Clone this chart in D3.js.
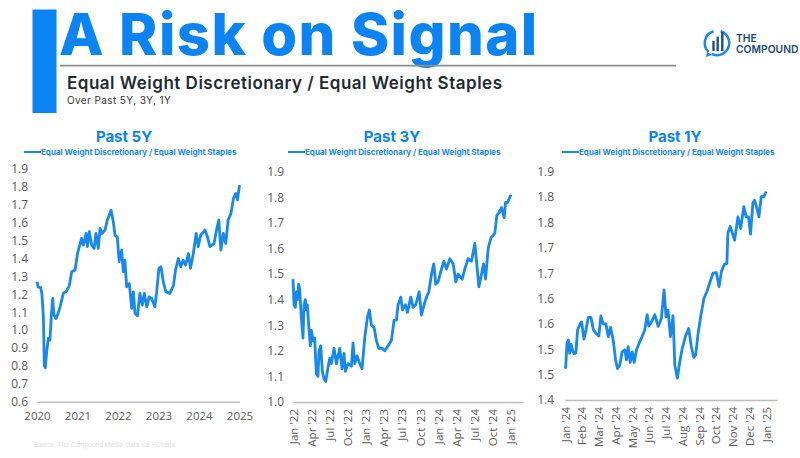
<!DOCTYPE html>
<html>
<head>
<meta charset="utf-8">
<script src="https://cdn.jsdelivr.net/npm/d3@7"></script>
<style>
    body { margin: 0; background: #fff; }
    svg { display: block; font-family: "Liberation Sans", sans-serif; }
    .tick text { fill: #595959; }
</style>
</head>
<body>
<svg id="chart" width="800" height="458"></svg>
<script>
// Past 5Y : annee decimale / ratio
const dates5y = [2020.00, 2020.03, 2020.09, 2020.12, 2020.155, 2020.165, 2020.18, 2020.205, 2020.24, 2020.28, 2020.32, 2020.354, 2020.387, 2020.42, 2020.47, 2020.52, 2020.57, 2020.65, 2020.73, 2020.80, 2020.856, 2020.94,
    2021.00, 2021.10, 2021.144, 2021.21, 2021.243, 2021.29, 2021.35, 2021.41, 2021.457, 2021.514, 2021.556, 2021.605, 2021.68, 2021.737, 2021.827, 2021.885, 2021.926, 2021.983,
    2022.03, 2022.09, 2022.13, 2022.17, 2022.214, 2022.28, 2022.337, 2022.38, 2022.42, 2022.48, 2022.54, 2022.60, 2022.65, 2022.71, 2022.77, 2022.83, 2022.91, 2022.955,
    2023.01, 2023.06, 2023.12, 2023.18, 2023.28, 2023.37, 2023.42, 2023.49, 2023.55, 2023.61, 2023.67, 2023.74, 2023.79, 2023.86, 2023.93, 2023.98,
    2024.04, 2024.15, 2024.21, 2024.27, 2024.37, 2024.44, 2024.49, 2024.54, 2024.60, 2024.66, 2024.72, 2024.79, 2024.85, 2024.91, 2024.95, 2025.00]
const values5y = [1.27, 1.24, 1.237, 1.205, 1.084, 1.00, 0.80, 0.79, 0.88, 0.954, 0.944, 1.084, 1.177, 1.084, 1.065, 1.093, 1.13, 1.205, 1.218, 1.25, 1.326, 1.335,
    1.428, 1.512, 1.475, 1.54, 1.466, 1.55, 1.475, 1.456, 1.54, 1.456, 1.568, 1.54, 1.559, 1.615, 1.67, 1.605, 1.53, 1.52,
    1.382, 1.447, 1.326, 1.39, 1.242, 1.26, 1.121, 1.214, 1.093, 1.08, 1.205, 1.14, 1.205, 1.13, 1.186, 1.177, 1.13, 1.214,
    1.345, 1.354, 1.27, 1.214, 1.205, 1.25, 1.335, 1.40, 1.354, 1.39, 1.363, 1.428, 1.345, 1.428, 1.54, 1.466,
    1.53, 1.559, 1.52, 1.466, 1.484, 1.568, 1.615, 1.447, 1.54, 1.484, 1.615, 1.652, 1.736, 1.764, 1.727, 1.81]
const yTicks5y = [0.6, 0.7, 0.8, 0.9, 1.0, 1.1, 1.2, 1.3, 1.4, 1.5, 1.6, 1.7, 1.8, 1.9]
const xTicks5y = [2020, 2021, 2022, 2023, 2024, 2025]

// Past 3Y : mois depuis Jan '22 / ratio
const months3y = [0, .17, .39, .55, .72, .94, 1.1, 1.38, 1.65, 1.82, 2.04, 2.2, 2.37, 2.65, 2.87, 3.03, 3.31, 3.58, 3.86, 4.13, 4.3, 4.58, 4.85, 5.13, 5.4, 5.68, 6.06, 6.34, 6.78, 7.17, 7.72, 8.1, 8.43, 8.65, 9.1, 9.65, 9.92, 10.2, 10.58, 11.03, 11.41, 11.85,
    12.29, 12.62, 12.95, 13.4, 13.78, 14.17, 14.72, 15.16, 15.71, 16.26, 16.7, 17.09, 17.36, 17.81, 18.08, 18.58, 18.91, 19.46, 19.85, 20.29, 20.84, 21.22, 21.66, 22.05, 22.44, 22.88, 23.26, 23.59, 23.98,
    24.42, 24.92, 25.36, 25.91, 26.46, 26.9, 27.29, 27.95, 28.39, 28.94, 29.49, 30.04, 30.32, 30.71, 31.15, 31.48, 31.81, 32.25, 32.69, 33.35, 33.68, 34.07, 34.45, 34.89, 35.12, 35.45, 36]
const values3y = [1.48, 1.38, 1.37, 1.43, 1.40, 1.46, 1.44, 1.33, 1.25, 1.38, 1.40, 1.36, 1.38, 1.28, 1.22, 1.28, 1.24, 1.25, 1.11, 1.10, 1.20, 1.22, 1.12, 1.09, 1.08, 1.12, 1.17, 1.15, 1.21, 1.15, 1.21, 1.13, 1.19, 1.12, 1.15, 1.14, 1.23, 1.15, 1.18, 1.15, 1.13, 1.25,
    1.33, 1.36, 1.30, 1.29, 1.24, 1.21, 1.21, 1.20, 1.22, 1.24, 1.32, 1.32, 1.38, 1.41, 1.36, 1.38, 1.35, 1.41, 1.37, 1.38, 1.43, 1.34, 1.38, 1.41, 1.43, 1.50, 1.54, 1.46, 1.47,
    1.51, 1.55, 1.52, 1.56, 1.54, 1.47, 1.50, 1.48, 1.52, 1.56, 1.55, 1.62, 1.55, 1.45, 1.50, 1.54, 1.48, 1.60, 1.64, 1.66, 1.73, 1.74, 1.76, 1.72, 1.78, 1.78, 1.81]
const yTicks3y = [1.0, 1.1, 1.2, 1.3, 1.4, 1.5, 1.6, 1.7, 1.8, 1.9]
const xLabels3y = ["Jan '22", "Apr '22", "Jul '22", "Oct '22", "Jan '23", "Apr '23", "Jul '23", "Oct '23", "Jan '24", "Apr '24", "Jul '24", "Oct '24", "Jan '25"]

// Past 1Y : mois depuis Jan '24 / ratio
const months1y = [0, .04, .12, .2, .28, .36, .44, .54, .65, .75, .89, .99, 1.13, 1.25, 1.39, 1.55, 1.69, 1.85, 2.02, 2.14, 2.28, 2.44, 2.58, 2.72, 2.88, 3.02, 3.13, 3.27, 3.41, 3.57, 3.67, 3.77, 3.89, 4.01, 4.13, 4.27, 4.46, 4.6, 4.76, 4.9, 5.0, 5.16, 5.36, 5.56, 5.75, 5.91,
    6.03, 6.15, 6.29, 6.45, 6.55, 6.71, 6.83, 6.98, 7.18, 7.38, 7.54, 7.68, 7.8, 7.94, 8.13, 8.29, 8.47, 8.63, 8.83, 9.03, 9.19, 9.33, 9.52, 9.66, 9.72, 9.86, 10.12, 10.32, 10.48, 10.67, 10.81, 10.95, 11.07, 11.21, 11.31, 11.45, 11.57, 11.71, 11.87, 12]
const values1y = [1.467, 1.464, 1.512, 1.518, 1.492, 1.510, 1.499, 1.491, 1.493, 1.538, 1.550, 1.554, 1.520, 1.538, 1.563, 1.563, 1.539, 1.531, 1.526, 1.566, 1.550, 1.550, 1.525, 1.543, 1.517, 1.479, 1.462, 1.469, 1.495, 1.499, 1.479, 1.505, 1.474, 1.495, 1.474, 1.499, 1.515, 1.525, 1.538, 1.568, 1.546, 1.554, 1.568, 1.545, 1.561, 1.617,
    1.564, 1.577, 1.525, 1.566, 1.469, 1.443, 1.472, 1.499, 1.525, 1.541, 1.505, 1.484, 1.489, 1.531, 1.571, 1.600, 1.614, 1.630, 1.650, 1.651, 1.623, 1.653, 1.668, 1.669, 1.729, 1.742, 1.715, 1.761, 1.738, 1.781, 1.761, 1.761, 1.727, 1.788, 1.794, 1.778, 1.761, 1.801, 1.801, 1.811]
const yTicks1y = [1.40, 1.45, 1.50, 1.55, 1.60, 1.65, 1.70, 1.75, 1.80, 1.85]
const yLabels1y = ["1.4", "1.5", "1.5", "1.6", "1.6", "1.7", "1.7", "1.8", "1.8", "1.9"]
const xLabels1y = ["Jan '24", "Feb '24", "Mar '24", "Apr '24", "May '24", "Jun '24", "Jul '24", "Aug '24", "Sep '24", "Oct '24", "Nov '24", "Dec '24", "Jan '25"]

const seriesName = "Equal Weight Discretionary / Equal Weight Staples"
const blue = "#1688ee"

const svg = d3.select("#chart")

function header() {
    svg.append("rect").attr("x", 32.5).attr("y", 9.5).attr("width", 24).attr("height", 103.5).attr("fill", "#0a84f5")
    svg.append("text").attr("x", 59).attr("y", 55)
        .attr("font-family", "Inter").attr("font-weight", 800).attr("font-size", 58)
        .attr("letter-spacing", 1.4)
        .attr("fill", "#0a84f5").text("A Risk on Signal")
    svg.append("line").attr("x1", 60).attr("x2", 676).attr("y1", 65.6).attr("y2", 65.6)
        .attr("stroke", "#8c8c8c").attr("stroke-width", 1.6)
    svg.append("text").attr("x", 67).attr("y", 89)
        .attr("font-family", "Inter").attr("font-weight", 600).attr("font-size", 17)
        .attr("letter-spacing", 0.5)
        .attr("fill", "#1f2a33").text(seriesName)
    svg.append("text").attr("x", 67).attr("y", 104)
        .attr("font-family", "Inter").attr("font-size", 10)
        .attr("letter-spacing", 0.4)
        .attr("fill", "#333").text("Over Past 5Y, 3Y, 1Y")
    svg.append("text").attr("x", 33).attr("y", 447)
        .attr("font-size", 6.6).attr("fill", "#dedede")
        .text("Source: The Compound Media, data via YCharts")
}

function logo() {
    const g = svg.append("g").attr("transform", "translate(717,43)")
    const arc = d3.arc().innerRadius(11).outerRadius(13.5)
    g.append("path").attr("fill", blue).attr("d", arc({ startAngle: 0.3, endAngle: 3.6 }))
    g.append("path").attr("fill", blue).attr("d", arc({ startAngle: 3.9, endAngle: 6.0 }))
    g.append("path").attr("fill", blue).attr("d", d3.line()([[-10, 9], [-11, 14], [-5, 12]]))
    g.selectAll("rect").data([-3.5, 0.7, 5.3]).enter().append("rect")
        .attr("x", d => d - 1.2).attr("y", (d, i) => [-2, -6.3, -11][i])
        .attr("width", 2.4).attr("height", (d, i) => [10, 14.3, 19][i]).attr("fill", "#1d4f80")
    svg.append("text").attr("x", 736).attr("y", 42).attr("font-family", "Inter").attr("font-weight", 600)
        .attr("font-size", 10.3).attr("fill", "#1f4a70").text("THE")
    svg.append("text").attr("x", 736).attr("y", 53.3).attr("font-family", "Inter").attr("font-weight", 600)
        .attr("font-size", 10.3).attr("fill", "#1f4a70").text("COMPOUND")
}

function panel(p) {
    const x = d3.scaleLinear().domain(p.xDomain).range([p.left, p.right])
    const y = d3.scaleLinear().domain(p.yDomain).range([p.bottom, p.top])

    svg.append("text").attr("x", p.titleX).attr("y", 141.5).attr("text-anchor", "middle")
        .attr("font-family", "Inter").attr("font-weight", 700).attr("font-size", 15)
        .attr("fill", "#0a84f5").text(p.title)

    svg.append("line").attr("x1", p.legendX).attr("x2", p.legendX + 17).attr("y1", 152).attr("y2", 152)
        .attr("stroke", blue).attr("stroke-width", 2)
    svg.append("text").attr("x", p.legendX + 17).attr("y", 155)
        .attr("font-family", "Inter").attr("font-weight", 700).attr("font-size", 8)
        .attr("fill", blue).text(seriesName)

    const yAxis = d3.axisLeft(y).tickValues(p.yTicks).tickSize(0).tickPadding(0)
        .tickFormat((d, i) => p.yLabels ? p.yLabels[i] : d3.format(".1f")(d))
    svg.append("g").attr("transform", `translate(${p.yLabelX},0)`).call(yAxis)
        .call(g => g.select(".domain").remove())
        .selectAll("text").attr("font-family", "Open Sans").attr("font-size", 12)

    const xAxis = d3.axisBottom(x).tickValues(p.xTicks).tickSize(0)
        .tickFormat((d, i) => p.xLabels ? p.xLabels[i] : d)
    const gx = svg.append("g").attr("transform", `translate(0,${p.bottom})`).call(xAxis)
    gx.select(".domain").attr("stroke", "#bdbdbd").attr("stroke-width", 1.5)
    gx.selectAll("text").attr("font-family", "Open Sans").attr("font-size", p.xLabels ? 11.5 : 11.5)
    if (p.xLabels) {
        gx.selectAll("text")
            .attr("transform", "rotate(-90)")
            .attr("text-anchor", "end")
            .attr("x", -7).attr("y", 0).attr("dy", "0.35em")
    } else {
        gx.selectAll("text").attr("y", 10)
    }

    const line = d3.line().x((d, i) => x(p.xs[i])).y(d => y(d)).curve(d3.curveLinear)
    svg.append("path").datum(p.values)
        .attr("fill", "none").attr("stroke", blue).attr("stroke-width", 2.8)
        .attr("stroke-linejoin", "round").attr("d", line)
}

header()
logo()

panel({
    title: "Past 5Y", titleX: 124, legendX: 24,
    xs: dates5y, values: values5y,
    xDomain: [2020, 2025], yDomain: [0.6, 1.9],
    left: 37, right: 239.5, top: 169, bottom: 401.7,
    yTicks: yTicks5y, xTicks: xTicks5y, yLabelX: 28
})

panel({
    title: "Past 3Y", titleX: 392, legendX: 288,
    xs: months3y, values: values3y,
    xDomain: [0, 38], yDomain: [1.0, 1.9],
    left: 293, right: 523, top: 171.7, bottom: 402,
    yTicks: yTicks3y, xTicks: d3.range(0, 37, 3), xLabels: xLabels3y, yLabelX: 284
})

panel({
    title: "Past 1Y", titleX: 675, legendX: 562,
    xs: months1y, values: values1y,
    xDomain: [0, 12.65], yDomain: [1.40, 1.85],
    left: 565, right: 777, top: 171.7, bottom: 400,
    yTicks: yTicks1y, yLabels: yLabels1y, xTicks: d3.range(0, 13), xLabels: xLabels1y, yLabelX: 554
})
</script>
</body>
</html>
